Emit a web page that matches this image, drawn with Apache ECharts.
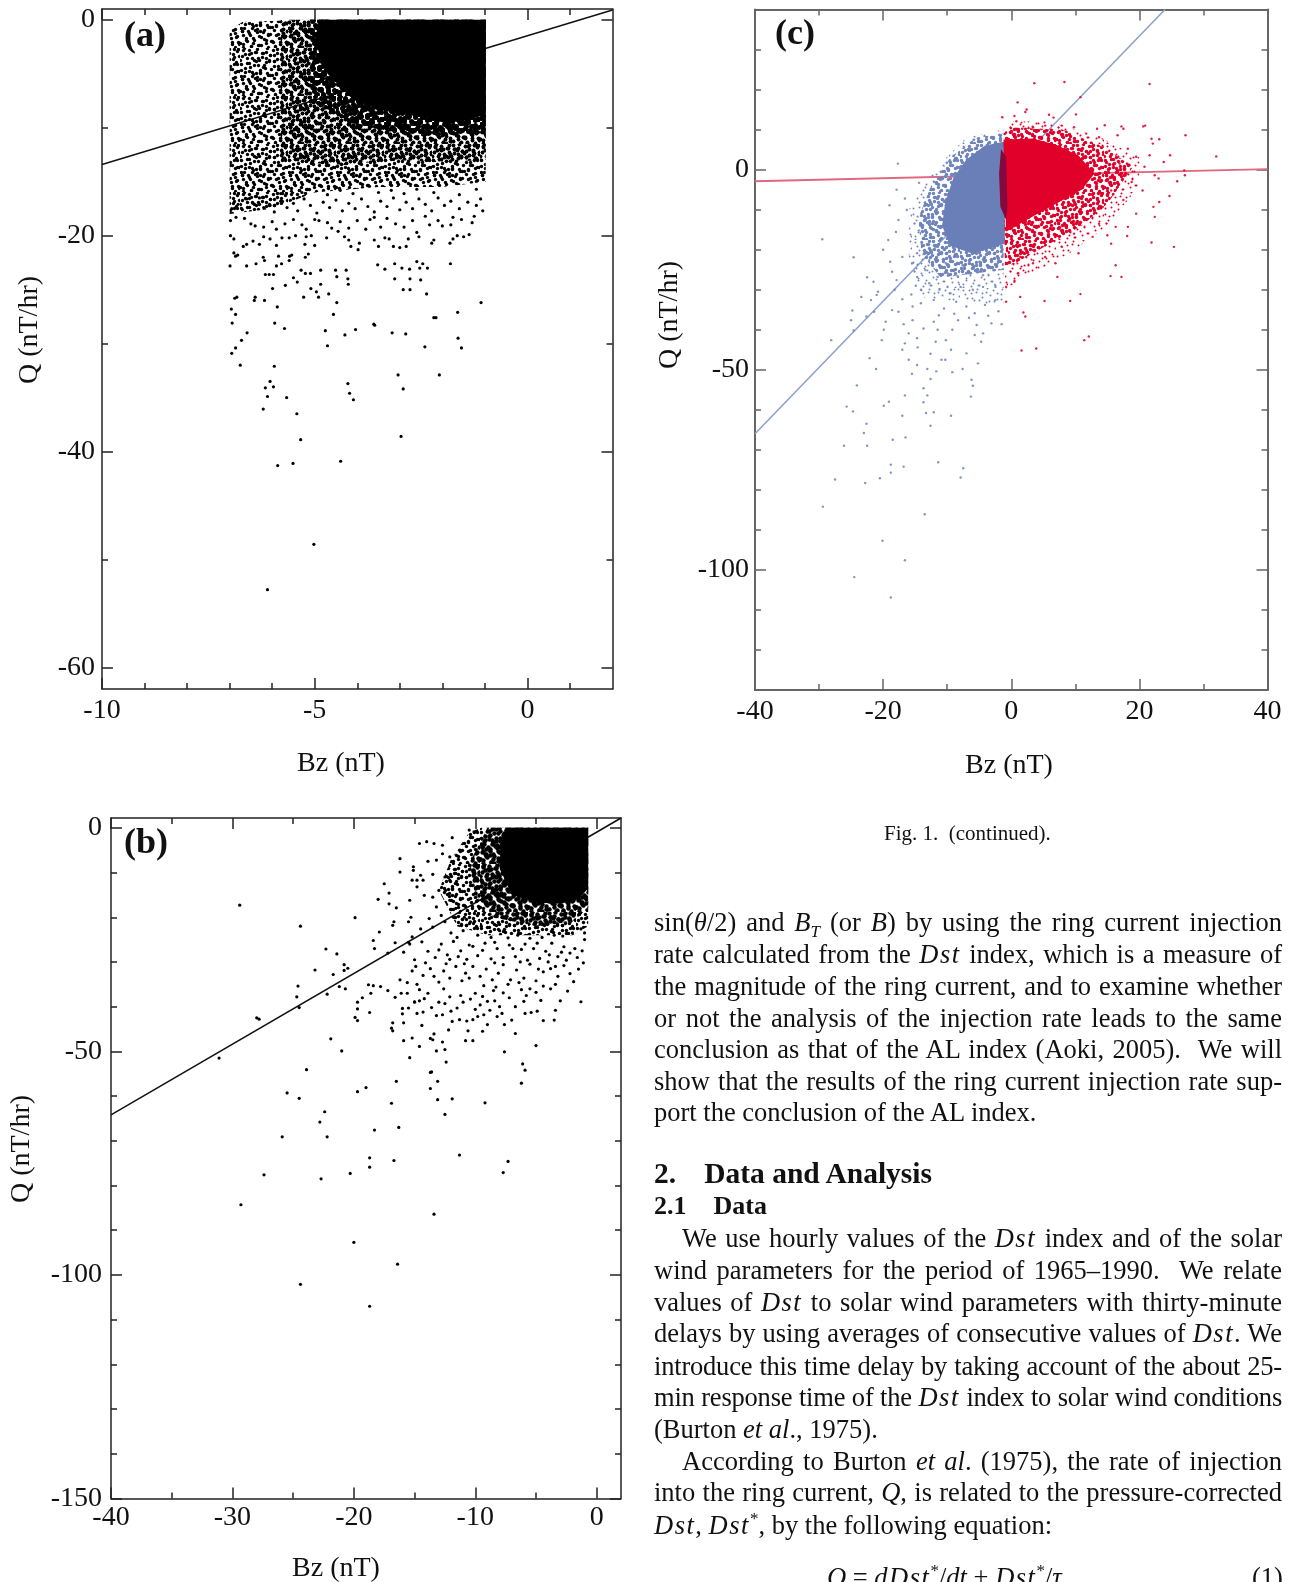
<!DOCTYPE html>
<html>
<head>
<meta charset="utf-8">
<title>Fig. 1 (continued)</title>
<script src="https://cdn.jsdelivr.net/npm/echarts@6/dist/echarts.min.js"></script>
<style>
html, body { margin: 0; padding: 0; background: #fff; overflow: hidden; }
#page { position: relative; width: 1296px; height: 1582px; overflow: hidden; }
#chart { position: absolute; left: 0; top: 0; width: 1296px; height: 1582px; }
.ln { position: absolute; left: 654px; width: 628px; height: 32px; line-height: 32px; white-space: nowrap;
  font-family: "Liberation Serif", serif; font-size: 26.5px; color: #111; text-align: justify; text-align-last: justify; }
.ln.end { text-align-last: left; }
.ln.in { left: 682px; width: 600px; }
.ln.tight { letter-spacing: -0.2px; }
.ln i.m { letter-spacing: 1.5px; }
.ln b { font-size: 29.5px; }
.ln b.s { font-size: 26px; }
</style>
</head>
<body>
<div id="page"><div id="chart"></div></div>
<script>
// ---- panel (a) ----
const aXRange = [-10, 2], aYRange = [-62, 1]
const aXMajor = [-10, -5, 0], aXMinor = [-9, -8, -7, -6, -4, -3, -2, -1, 1]
const aYMajor = [0, -20, -40, -60], aYMinor = [-10, -30, -50]
const aLine = [[-10, -13.4], [2, 0.9]]
const aPoints = [
  [-6.21,-36.07],[-5.42,-36.5],[-5.33,-38.9],[-2.97,-38.6],[-5.87,-41.3],[-5.51,-41.1],[-4.39,-40.9],[-5.02,-48.6],[-6.11,-52.8],
  [-6.99,-22.8],[-6.86,-21.9],[-6.81,-21.8],[-6.6,-22.8],[-6.38,-22.6],[-6.21,-22],[-6.18,-22.3],[-6.16,-23.6],[-6.07,-23.6],[-5.97,-23.6],
  [-5.9,-22.8],[-5.78,-22.6],[-5.85,-21.9],[-5.59,-21.9],[-5.54,-21.8],[-5.6,-22.3],[-5.32,-23.2],[-5.22,-23.5],[-5.1,-23.5],[-5.22,-22],
  [-5.15,-21.7],[-4.86,-23.2],[-4.51,-23.2],[-4.26,-23.2],[-4.48,-23.8],[-4.22,-24],[-4.21,-24.5],[-5.5,-23.9],[-5.41,-24.3],[-5.69,-24.6],
  [-5.99,-24.9],[-5.09,-24.9],[-4.96,-25.2],[-4.86,-24.5],[-4.67,-25.4],[-5.26,-25.7],[-4.91,-25.7],[-4.48,-26.2],[-4.56,-27.3],[-3.52,-22.7],
  [-3.35,-23.1],[-3.12,-22.6],[-2.95,-23],[-2.77,-23.1],[-2.6,-22.4],[-2.46,-22.6],[-2.35,-23],[-2.53,-23],[-3.12,-24],[-2.76,-24],[-2.51,-24.1],
  [-2.92,-25],[-2.76,-25],[-2.37,-25.4],[-1.81,-22.6],[-1.09,-26.2],[-1.64,-27.1],[-2.2,-27.6],[-2.15,-27.6],[-3.61,-28.2],[-3.59,-28.3],
  [-3.18,-29],[-2.86,-29.1],[-4.04,-28.7],[-4.29,-29.2],[-4.75,-28.8],[-4.7,-30.2],[-5.71,-28.6],[-5.94,-28.1],[-5.88,-26.6],[-6.18,-26],
  [-6.42,-26],[-6.4,-25.7],[-6.88,-25.8],[-6.83,-25.7],[-6.96,-26.8],[-6.86,-27.3],[-6.94,-28.1],[-6.59,-29],[-6.72,-29.7],[-6.86,-30.4],
  [-6.95,-30.9],[-6.75,-32],[-5.95,-32.1],[-6.05,-33.5],[-5.97,-34],[-6.16,-34.1],[-6.11,-34.9],[-5.66,-35],[-4.22,-33.7],[-4.18,-34.6],
  [-4.09,-35.2],[-3.04,-32.9],[-2.07,-32.9],[-2.92,-34.2],[-1.63,-29.5],[-1.55,-30.4],[-2.41,-30.3],
  [-6.98,-20],[-6.9,-20.3],[-6.68,-21],[-6.6,-20.8],[-6.45,-20.5],[-6.3,-20.8],[-6.2,-20.1],[-6.05,-20.3],[-5.9,-20.9],[-5.77,-20.2],[-5.6,-20.2],
  [-5.45,-20],[-5.2,-20.1],[-5.08,-20],[-5.23,-20.8],[-5,-20.9],[-4.72,-20.2],[-4.45,-19.6],[-4.3,-20.1],[-4.2,-20.4],[-4.15,-21],[-3.98,-21.3],
  [-3.95,-20.7],[-3.6,-20.4],[-3.5,-21],[-3.35,-20.2],[-3.25,-20.3],[-3.15,-21],[-3,-21.1],[-2.85,-21],[-2.8,-20.3],[-2.55,-20.1],[-2.25,-20.7],
  [-2.2,-20.4],[-1.82,-20.7],[-1.75,-20.3],[-1.65,-20],[-1.5,-20.1],[-1.37,-19.9],[-6.9,-21.6],
  [-6.98,-18.6],[-6.85,-18.3],[-6.65,-18.4],[-6.5,-18.9],[-6.4,-19.1],[-6.2,-19.2],[-6,-18.7],[-5.9,-19.4],[-5.7,-18.9],[-5.5,-18.5],[-5.3,-19],
  [-5.2,-19.4],[-5,-18.5],[-4.9,-18.6],[-4.7,-18.8],[-4.6,-19.3],[-4.4,-18.7],[-4.2,-19.3],[-4,-18.6],[-3.8,-19.4],[-3.7,-18.5],[-3.6,-18.3],
  [-3.45,-19.2],[-3.3,-18.4],[-3.1,-18.9],[-2.9,-19.2],[-2.7,-18.6],[-2.6,-19.7],[-2.4,-18.2],[-2.3,-19],[-2.1,-18.6],[-2,-19.1],[-1.8,-19],
  [-1.75,-18.3],[-1.55,-18.5],[-1.3,-18.8],[-1.25,-18.2],
  [-6.95,-17.5],[-6.8,-17.1],[-6.7,-17.6],[-6.6,-16.6],[-6.45,-17],[-6.3,-16.5],[-6.2,-17.4],[-6.05,-17.2],[-5.95,-17.8],[-5.8,-16.8],[-5.65,-17.4],
  [-5.5,-17],[-5.4,-17.7],[-5.25,-16.6],[-5.1,-17.2],[-4.95,-17.9],[-4.8,-16.9],[-4.65,-17.4],[-4.5,-16.7],[-4.35,-17.7],[-4.2,-17],[-4.05,-17.5],
  [-3.9,-16.6],[-3.75,-17.3],[-3.6,-17.8],[-3.45,-16.8],[-3.3,-17.3],[-3.15,-16.5],[-3,-17.6],[-2.85,-16.9],[-2.7,-17.5],[-2.55,-16.6],[-2.4,-17.1],
  [-2.25,-17.7],[-2.1,-16.5],[-1.95,-17.2],[-1.8,-16.8],[-1.6,-17.5],[-1.4,-16.9],[-1.2,-17.2],[-1.05,-17.7],[-1.1,-16.6],
  [-5.8,-16.1],[-5.3,-16],[-4.7,-16.2],[-4.1,-16.1],[-3.5,-16],[-2.9,-16.1],[-2.2,-16],[-1.6,-16.2],[-1.2,-15.7],[-4.4,-15.8],[-3.2,-15.8],[-2.6,-15.7]
]
// outlines of the parts of the cloud where the dots overlap too much to read one by one
const aLight = [[-7,-1],[-6.7,-0.2],[-5.2,0],[-0.98,0],[-0.98,-15],[-2,-15.5],[-3.5,-15.5],[-5,-16],[-6,-17.5],[-7,-18]]
const aMid = [[-5.8,0],[-0.98,0],[-0.98,-13],[-2,-13.2],[-3.2,-13],[-4.4,-13.5],[-5.8,-13]]
const aDense = [[-5.1,0],[-0.98,0],[-0.98,-10.5],[-2.5,-10.8],[-4,-9.8],[-5.1,-7.5]]
const aCore = [[-4.9,0],[-0.98,0],[-0.98,-8.8],[-1.6,-9.5],[-2.5,-9],[-3.4,-8.4],[-4.1,-7.4],[-4.7,-5],[-5,-2]]

// ---- panel (b) ----
const bXRange = [-40, 2], bYRange = [-150, 2.2]
const bXMajor = [-40, -30, -20, -10, 0], bXMinor = [-35, -25, -15, -5]
const bYMajor = [0, -50, -100, -150], bYMinor = [-10, -20, -30, -40, -60, -70, -80, -90, -110, -120, -130, -140]
const bLine = [[-40, -64.2], [2, 2.2]]
const bPoints = [
  [-29.4,-17.3],[-24.4,-22],[-19.9,-20.1],[-22.3,-27.1],[-21.4,-28.2],[-23.2,-31.8],[-21.7,-32.8],[-20.8,-30.6],[-20.5,-31.4],[-20.8,-31.9],
  [-24.6,-35.4],[-24.7,-37.8],[-24.5,-40.2],[-22.2,-37.2],[-21.2,-35.5],[-20.7,-36],[-28,-42.5],[-27.8,-42.8],[-31.1,-51.5],[-21.9,-47.2],[-21,-49.9],
  [-23.9,-54.1],[-25.5,-59.3],[-24.5,-60.5],[-22.4,-63.5],[-22.8,-65.8],[-25.9,-69.1],[-22.2,-69.1],[-27.4,-77.6],[-22.7,-78.5],[-20.3,-77.3],
  [-18.7,-75.9],[-18.7,-73.8],[-16.7,-74.4],[-18.3,-67.6],[-16.3,-67],[-11.3,-73.2],[-7.7,-77.1],[-7.3,-74.6],[-9.2,-61.5],[-11.9,-60.6],[-13.1,-60.8],
  [-12.5,-64.1],[-16.9,-61.6],[-19.7,-59],[-19,-58.1],[-16.5,-56.7],[-13.7,-58.3],[-13.1,-56.7],[-13.7,-54.7],[-13.6,-54.6],[-15.4,-51.4],[-12.4,-52.4],
  [-12.5,-49.6],[-13.2,-49.9],[-6.2,-57.1],[-5.9,-54.2],[-6.1,-52.8],[-7.6,-50.1],[-5,-48.7],[-6.7,-46],[-9.4,-45.5],[-10.8,-47.6],[-10.2,-47.6],
  [-13.7,-47.1],[-13.4,-46.1],[-13.5,-47.4],[-12.7,-47.9],[-14.6,-48.9],[-15.2,-47],[-15.9,-47.6],[-14.4,-44.2],[-16.8,-45.4],[-16.9,-44.8],[-16.8,-43.6],
  [-15.9,-43.6],[-16,-41.6],[-19.9,-42.4],[-19.7,-43.1],[-19.7,-40.5],[-19.7,-39],[-19.3,-38],[-18.7,-41.3],[-18.6,-37],[-18.4,-35.3],[-18.8,-35.1],
  [-17.8,-35.5],[-17.2,-36.4],[-16.6,-37.9],[-16.1,-37],[-16,-40.4],[-15.5,-40.3],[-15,-38.9],
  // the few single ones at the bottom
  [-29.3,-84.3],[-24.4,-102.1],[-20,-92.7],[-16.4,-97.6],[-18.7,-107],[-13.4,-86.4],
  [-14.8,-41.5],[-14.3,-41.2],[-13.2,-42],[-12.7,-41.8],[-11.9,-43.3],[-11.3,-42.9],[-10.7,-43.2],[-10.2,-42.9],[-9.8,-42.2],[-9.3,-41.8],[-8.8,-40.8],
  [-8.2,-42.2],[-7.8,-41.5],[-7.6,-44],[-5.9,-41.5],[-5.4,-41.3],[-4.9,-41],[-4.4,-43.1],[-3.5,-43],[-3.4,-40.8],
  [-15,-39],[-14.6,-38.7],[-14.2,-38.2],[-13.9,-37],[-13,-39],[-12.5,-39.3],[-12.1,-37.8],[-11.5,-40.3],[-11.2,-37.5],[-10.4,-38.3],[-10,-37],[-9.4,-37.7],
  [-9,-38.8],[-8.4,-38.7],[-8,-40],[-7.7,-36.9],[-6.2,-36.2],[-6,-38.8],[-5.5,-36],[-5,-36.8],[-4.4,-35.4],[-3.8,-36],[-3,-38.7],[-1.3,-38.9],
  [-16.2,-34],[-15.6,-34.6],[-15.2,-32],[-14.8,-35],[-14.3,-33],[-13.7,-31.5],[-13,-34.5],[-12.6,-32],[-12.1,-33.6],[-11.6,-31],[-11.1,-34.2],[-10.8,-32.5],
  [-10.2,-31],[-9.6,-33.2],[-9.1,-31.6],[-8.6,-34],[-8.1,-32.5],[-7.7,-30.6],[-7.1,-34],[-6.6,-31.8],[-6,-33.6],[-5.5,-30.5],[-5,-34.2],[-4.4,-32.2],
  [-3.8,-31.5],[-3.2,-33.2],[-2.7,-30.8],[-2.2,-32.6],[-7.3,-35],[-9.3,-35.3],
  [-17.2,-28],[-16.6,-25.7],[-15.9,-27.8],[-15.4,-26],[-15,-29.5],[-14.4,-25.5],[-13.9,-27.6],[-13.3,-29],[-12.8,-26],[-12.3,-28.4],[-11.8,-25.4],[-11.2,-27.5],
  [-10.7,-29.4],[-10.2,-26.5],[-9.8,-28.6],[-9.2,-25.8],[-8.7,-29.3],[-8.2,-27],[-7.7,-29],[-7.2,-26.2],[-6.7,-28.8],[-6.2,-27.2],[-5.7,-29.6],[-5.2,-27],
  [-4.7,-29.2],[-4.2,-27.6],[-3.7,-25.8],[-3.2,-28.8],[-2.7,-26.6],[-2.2,-28],[-1.8,-27],[-1.2,-27.5],[-1,-25],[-10.5,-26.2],[-12.1,-29.4],
  [-17.5,-12.5],[-16.2,-6.9],[-16.2,-9.9],[-17.1,-14.6],[-18,-16],[-17.1,-17],[-16.5,-17.9],[-15.1,-8.7],[-15.1,-9.5],[-15.4,-16.2],[-15.2,-11.7],[-14.6,-3.5],
  [-14,-3.1],[-13.4,-3.5],[-12.7,-3.9],[-11.9,-2.2],[-12.7,-5.8],[-12.1,-6.5],[-13.9,-7.5],[-13.2,-7.2],[-14.8,-11.7],[-14.3,-11.7],[-14.5,-10.6],[-13.5,-10.4],
  [-14.8,-13.2],[-14.2,-15.1],[-13.5,-15.5],[-13,-14],[-12.1,-11.7],[-12.5,-11],[-11.6,-10.2],[-11.8,-8],[-11.3,-5],[-10.5,-0.5],[-10.1,-0.9],
  [-18.4,-25.2],[-18.3,-27],[-17.9,-23.3],[-16.8,-21.8],[-16.7,-21],[-15.5,-21],[-15.3,-20],[-14.5,-22.6],[-15.5,-25.6],[-15.2,-24.4],[-13.8,-20.3],[-13.5,-22.2],
  [-12.8,-19.6],[-12.5,-21],[-11.8,-20],[-13.2,-17.7],[-12.1,-16.2],[-11.6,-18],[-11,-23],[-10.4,-21],[-9.8,-24],[-12,-23.5],[-11.5,-24.5],[-10.9,-20],[-9.5,-22],
  [-8.7,-24.5],[-8,-23],[-7.3,-24.6],[-6.5,-24],[-5.5,-24.7],[-4.5,-24.5],[-3.5,-24],[-2.8,-24.2],[-2,-23.5],[-1.3,-22.6],[-1,-23.5],
  [-11.4,-28.8],[-9.4,-27.4],[-8.4,-25.6],[-6.9,-27],[-5.9,-26],[-4.9,-25.8],[-3.9,-28.4],[-2.9,-27.8],[-1.6,-29],[-1.1,-30.2],[-2.5,-29.6],[-4,-30],[-6.3,-30],
  [-8.4,-30.2],[-10.9,-30.4],[-12.4,-30.4],[-13,-27.3],[-14.1,-30.2],[-14.9,-31],[-13.4,-33.2],[-10.5,-33.6],[-8.3,-35.6],[-6.4,-34.6],[-4.8,-31.6],[-3.4,-31],
  [-1.9,-34.4],[-1.5,-31.6],[-2.4,-36.5],[-3.4,-35],[-5.8,-37.5],[-7.2,-38],[-9.6,-39.6],[-11,-39],[-12.6,-36],[-14.6,-36.2],[-15.6,-37],[-13.6,-40.2],[-12,-41],
  [-10,-40.6],[-8.5,-36.4],[-4.6,-38.6],[-6.7,-40],[-7,-43],[-9,-44],[-10.6,-45.4],[-12.2,-45.2]
]
const bLight = [[-10.5,-1],[-9.5,0],[-0.7,0],[-0.7,-22],[-2,-24],[-6,-24],[-9,-24],[-11.5,-22],[-13,-14],[-12,-7]]
const bMid = [[-9,0],[-0.7,0],[-0.7,-18],[-2,-21],[-5,-22],[-8.5,-20],[-10,-15],[-10.5,-8]]
const bCore = [[-7.4,0],[-0.7,0],[-0.7,-13.5],[-1.5,-16],[-3,-17],[-5,-16.7],[-7,-15],[-8,-9],[-7.9,-3]]

// ---- panel (c) ----
const cXRange = [-40, 40], cYRange = [-130, 40]
const cXMajor = [-40, -20, 0, 20, 40], cXMinor = [-30, -10, 10, 30]
const cYMajor = [0, -50, -100], cYMinor = [30, 20, 10, -10, -20, -30, -40, -60, -70, -80, -90, -110, -120]
const cBlueLine = [[-40, -66], [24, 40]]
const cRedLine = [[-40, -2.9], [40, 0.1]]
const cBluePoints = [
  [-25.7,-59.2],[-24.7,-60.4],[-19.9,-59],[-19.1,-58],[-13.7,-58.1],[-17,-61.5],[-13.3,-60.8],[-12.1,-60.6],[-9.4,-61.5],[-22.6,-63.5],[-23,-65.8],[-12.6,-64],
  [-16.5,-66.9],[-18.5,-67.5],[-26.1,-69],[-22.5,-69],[-18.8,-73.7],[-16.8,-74.2],[-11.4,-73.1],[-7.5,-74.6],[-7.9,-76.9],[-18.8,-75.7],[-20.5,-77.1],[-27.5,-77.4],
  [-22.8,-78.3],[-29.4,-84.2],[-13.5,-86.1],[-20.1,-92.7],[-16.6,-97.6],[-24.5,-101.8],[-18.8,-106.9],
  [-29.5,-17.4],[-17.7,1.5],[-24.6,-21.9],[-20,-20],[-22.5,-26.9],[-23.4,-31.8],[-21.5,-28],[-20.8,-30.5],[-21,-31.3],[-21.9,-32.6],[-21.4,-35.5],[-24.8,-35.2],
  [-25,-37.6],[-22.6,-36.7],[-24.6,-40.2],[-28.1,-42.6],[-22.1,-47.1],[-21.1,-49.8],[-24.1,-53.9],[-19.6,-38],[-19.9,-40],[-20.2,-42.6],[-18.6,-35.1],[-17.6,-35.5],
  [-16.6,-56.4],[-15.5,-51],[-13.7,-54.6],[-13.1,-56.4],[-12.6,-52.3],[-13.1,-49.8],[-14.7,-48.8],[-16,-47.5],[-17,-45],[-16.6,-43.4],[-14.7,-42.1],[-11.8,-43],
  [-10.2,-42.6],[-10.9,-47.5],[-10.3,-47.5],[-9.4,-45],[-7,-45.9],[-5.2,-48.4],[-7.6,-49.8],[-6.2,-52.5],[-6,-54],[-6.3,-56.7],[-4.7,-43],[-5.7,-41.3],[-4.4,-40.9],
  [-3.1,-38.4],[-1.5,-38.6],[-5.4,-38.8],[-8.3,-37.6],[-9.2,-40],[-11.5,-40],[-13.7,-39.7],[-15.4,-37.6],[-16,-40.9],[-12.1,-38],[-15.4,-34.2],[-14.1,-33.4],[-12.1,-32.6],
  [-10.5,-34.7],[-8.6,-33],[-7,-34.2],[-5.7,-35.9],[-4.1,-33.8],[-2.5,-32.6],[-14.1,-30],[-12.8,-28.4],[-11.2,-30],[-9.5,-30.9],[-7.9,-29.3],[-6,-30],[-4.4,-29.3],
  [-2.5,-28.8],[-14.7,-26.8],[-17.9,-27.6],[-18.6,-25.5],[-15.4,-23.4],[-13.4,-25.1],[-11.5,-26.8],[-9.9,-25.9],[-8.3,-26.8],[-6.3,-25.9],[-4.4,-26.4],[-2.8,-25.1],
  [-17,-21.8],[-14.7,-20.9],[-12.8,-22.6],[-10.2,-23.4],[-7.6,-23.9],[-5,-23],[-2.1,-23.4],[-16.6,-7.2],[-17.6,-12.6],[-16.3,-10.1],[-14.4,-3.3],
  [-18.2,-30],[-17,-32.4],[-15.6,-31.2],[-16.8,-38.6],[-14.6,-44.4],[-12.6,-46],[-11.3,-36.4],[-8.9,-36],[-6.6,-37],[-3.6,-36.5],[-2,-35.4],[-9.2,-50.6],[-11.7,-50.4],
  [-14.9,-29],[-18.9,-23],[-19.2,-17.6],[-18,-15.6],[-19,-8.9],[-17.9,-5]
]
const cRedPoints = [
  [3.6,21.6],[8.3,21.9],[21.6,21.4],[10.8,18.1],[1,16.8],[2.4,15],[2.2,14.4],[0.5,13.4],[-1.4,13.1],[0.8,12.1],[5.9,13.7],[6.6,13],[10.1,13.8],[14.6,11.1],[13.4,10.2],
  [17.2,10.8],[17.5,10.2],[20.6,10.8],[20.9,11],[27.2,8.6],[21.9,7.7],[23.1,7.6],[22.1,6.5],[16.6,8.6],[18.2,5.2],[19.5,3.2],[21.6,3.6],[24.8,3.6],[23.8,1.9],[32,3.3],
  [27,-0.2],[27.1,-1.4],[22.4,-1.4],[23,-2.2],[25.9,-2.9],[20.5,-5.2],[24.7,-6.6],[23.1,-8.1],[22.2,-9.3],[22.4,-11.8],[21.9,-18.2],[25.4,-19.3],[18.2,-14.3],[16.3,-14.3],
  [15,-16.4],[15.6,-18.5],[18.1,-16.6],[16.3,-23.9],[17.2,-26.8],[15.5,-26.6],[10.8,-31.1],[9.2,-32.8],[12.1,-41.7],[11.4,-42.6],[1.6,-45.2],[3.9,-44.7],[1.9,-35.7],[2.2,-36.7],
  [5.2,-32.8],[-0.8,-33],[0.5,-28],[1.4,-31.8],[7.2,-26.8],[6.9,-23.4],[5.3,-21.8],[3.4,-23.4],[1.1,-25.9],[-0.8,-29.3],[-0.5,-23.4],[10.5,-20.9],[12.7,-16.8],[13.7,-13.5],
  [9.8,-16],[7.9,-19.3],[5.3,-17.6],[3.4,-20.1],[1.4,-21.8],[19.5,-11],[14.3,-9.3],[17.5,-7.6],[15.6,-5.2],[18.8,-3.1],[20.8,0.7],[16.9,1.5],[14.3,5.7],[13.7,8.1],[11.7,9],
  [9.8,10.6],[7.9,11],[5.3,11],[3.4,10.6],[0.1,9.4],[1.7,10.2]
]
const cBlueOuter = [[-1.2,10],[-7,8],[-12,0],[-16,-10],[-16,-22],[-14,-32],[-1.2,-34]]
const cBlueBand = [[-1.2,9],[-5.5,8],[-9.5,3],[-12.5,-4],[-14.5,-12],[-14,-21],[-11,-27],[-1.2,-25]]
const cBlueCore = [[-1,7],[-4.1,6],[-7,2.5],[-9,-2],[-10.3,-8],[-10.8,-14],[-9.5,-19],[-6,-21],[-1,-18.5]]
const cRedOuter = [[-1,12],[6,12],[14,8],[20,3],[20,-4],[15,-14],[9,-21],[3,-26],[-1,-30]]
const cRedBand = [[-1.2,9],[0,10.5],[8,10],[14.5,5.5],[19,0.7],[15,-8.5],[11,-14],[6,-18.5],[0.5,-23.5],[-1,-24]]
const cRedCore = [[-1.2,7.5],[3.4,7.8],[7,6.2],[10.5,3.5],[13,-1],[11,-5],[7,-8.5],[3,-12],[-0.8,-15.5]]
const cOverlap = [[-1.6,5.1],[-0.8,3.2],[-0.6,-9.3],[-0.8,-12.6],[-1.7,-9.3],[-1.9,-1]]

// ---- text ----
const bodyLines = [
  [922, 'sin(<i>θ</i>/2) and <i>B<sub style="font-size:17px;line-height:0">T</sub></i> (or <i>B</i>) by using the ring current injection', ''],
  [954, 'rate calculated from the <i class="m">Dst</i> index, which is a measure of', ''],
  [986, 'the magnitude of the ring current, and to examine whether', ''],
  [1018, 'or not the analysis of the injection rate leads to the same', ''],
  [1049, 'conclusion as that of the AL index (Aoki, 2005). &nbsp;We will', ''],
  [1081, 'show that the results of the ring current injection rate sup-', ''],
  [1112, 'port the conclusion of the AL index.', 'end'],
  [1173, '<b>2.<span style="margin-left:28px">Data and Analysis</span></b>', 'end'],
  [1205, '<b class="s">2.1<span style="margin-left:27px">Data</span></b>', 'end'],
  [1238, 'We use hourly values of the <i class="m">Dst</i> index and of the solar', 'in'],
  [1270, 'wind parameters for the period of 1965–1990. &nbsp;We relate', ''],
  [1302, 'values of <i class="m">Dst</i> to solar wind parameters with thirty-minute', ''],
  [1333, 'delays by using averages of consecutive values of <i class="m">Dst</i>. We', ''],
  [1366, 'introduce this time delay by taking account of the about 25-', 'tight'],
  [1397, 'min response time of the <i class="m">Dst</i> index to solar wind conditions', 'tight'],
  [1429, '(Burton <i>et al</i>., 1975).', 'end'],
  [1461, 'According to Burton <i>et al</i>. (1975), the rate of injection', 'in'],
  [1492, 'into the ring current, <i>Q</i>, is related to the pressure-corrected', ''],
  [1525, '<i class="m">Dst</i>, <i class="m">Dst</i><sup style="font-size:17px;line-height:0">*</sup>, by the following equation:', 'end']
]

const page = document.getElementById('page')
bodyLines.forEach(function (l) {
  const d = document.createElement('div')
  d.className = 'ln ' + l[2]
  d.style.top = (l[0] - 16) + 'px'
  d.innerHTML = l[1]
  page.appendChild(d)
})
function addText(html, left, top, extra) {
  const d = document.createElement('div')
  d.className = 'ln end'
  d.style.left = left + 'px'
  d.style.top = top + 'px'
  d.style.width = 'auto'
  if (extra) d.style.fontSize = extra
  d.innerHTML = html
  page.appendChild(d)
}
addText('Fig. 1. &nbsp;(continued).', 884, 817, '21px')
addText('<i>Q</i> = <i class="m">dDst</i><sup style="font-size:17px;line-height:0">*</sup>/<i>dt</i> + <i class="m">Dst</i><sup style="font-size:17px;line-height:0">*</sup>/<i>τ</i>', 827, 1561)
addText('(1)', 1252, 1561)

// speckle for the overlapping parts (the single dots there can't be read): one hand placed tile, shifted copies make it denser
const speck = [[3,2],[11,5],[17,1],[26,4],[33,2],[41,6],[46,1],[7,10],[14,12],[22,9],[29,13],[37,11],[44,14],[1,16],[10,19],[18,17],[25,20],[34,18],[40,21],[47,23],
  [5,24],[13,26],[20,24],[30,27],[36,25],[43,29],[2,31],[9,33],[17,32],[24,30],[28,35],[38,34],[45,36],[6,38],[14,40],[21,37],[32,41],[40,42],[47,44],[3,44],
  [11,46],[19,45],[26,43],[35,47],[43,47]]
const speckShifts = [[0,0],[17,29],[31,11],[7,37]]
function makeTile(color, level, r) {
  const c = document.createElement('canvas')
  c.width = 48
  c.height = 48
  const ctx = c.getContext('2d')
  ctx.fillStyle = color
  speck.forEach(function (p) {
    speckShifts.slice(0, level).forEach(function (s) {
      ctx.beginPath()
      ctx.arc((p[0] + s[0]) % 48 + 0.5, (p[1] + s[1]) % 48 + 0.5, r, 0, Math.PI * 2)
      ctx.fill()
    })
  })
  return { image: c, repeat: 'repeat' }
}

const grids = [], xAxes = [], yAxes = [], series = []

function axisPair(list, gridIndex, range, major, minor, sides, labelMargin, lineColor, lineWidth) {
  sides.forEach(function (side, i) {
    const base = {
      gridIndex: gridIndex, type: 'value', position: side, min: range[0], max: range[1],
      splitLine: { show: false }, minorSplitLine: { show: false }
    }
    list.push(Object.assign({}, base, {
      axisLine: { show: true, onZero: false, lineStyle: { color: lineColor, width: lineWidth } },
      axisTick: { show: true, inside: true, length: 11, customValues: major, lineStyle: { color: lineColor, width: 1.5 } },
      axisLabel: i === 0 ? {
        show: true, customValues: major, margin: labelMargin, color: '#111', fontSize: 28, fontFamily: 'Liberation Serif'
      } : { show: false }
    }))
    list.push(Object.assign({}, base, {
      axisLine: { show: false, onZero: false },
      axisTick: { show: true, inside: true, length: 6, customValues: minor, lineStyle: { color: lineColor, width: 1.5 } },
      axisLabel: { show: false }
    }))
  })
}

function addPanel(rect, xRange, yRange, xMajor, xMinor, yMajor, yMinor, xMargin, yMargin, lineColor, lineWidth) {
  const g = grids.length
  grids.push(rect)
  axisPair(xAxes, g, xRange, xMajor, xMinor, ['bottom', 'top'], xMargin, lineColor, lineWidth)
  axisPair(yAxes, g, yRange, yMajor, yMinor, ['left', 'right'], yMargin, lineColor, lineWidth)
  return g
}

function addLine(g, pts, color, width) {
  series.push({
    type: 'line', z: 1, xAxisIndex: g * 4, yAxisIndex: g * 4, data: pts, showSymbol: false, silent: true,
    lineStyle: { color: color, width: width }
  })
}

function addRegion(g, outline, fill) {
  series.push({
    type: 'custom', z: 2, xAxisIndex: g * 4, yAxisIndex: g * 4, silent: true, data: outline,
    encode: { x: 0, y: 1 },
    renderItem: function (params, api) {
      if (params.dataIndex !== 0) return null
      return { type: 'polygon', shape: { points: outline.map(function (p) { return api.coord(p) }) }, style: { fill: fill } }
    }
  })
}

function addDots(g, pts, color, size, opacity) {
  series.push({
    type: 'scatter', z: 2, xAxisIndex: g * 4, yAxisIndex: g * 4, data: pts, symbolSize: size, silent: true,
    itemStyle: { color: color, opacity: opacity }
  })
}

const gA = addPanel({ left: 102, top: 9, width: 510.5, height: 680 }, aXRange, aYRange, aXMajor, aXMinor, aYMajor, aYMinor, 8, 7, '#222', 1.5)
const gB = addPanel({ left: 111, top: 818, width: 510, height: 680.5 }, bXRange, bYRange, bXMajor, bXMinor, bYMajor, bYMinor, 5, 9, '#222', 1.5)
const gC = addPanel({ left: 755, top: 9.5, width: 512.5, height: 680.5 }, cXRange, cYRange, cXMajor, cXMinor, cYMajor, cYMinor, 8, 6, '#666', 2)

addLine(gA, aLine, '#111', 1.5)
addRegion(gA, aLight, makeTile('#000', 3, 1.7))
addRegion(gA, aMid, makeTile('#000', 4, 1.9))
addRegion(gA, aDense, makeTile('#000', 4, 2.5))
addRegion(gA, aCore, '#000')
addDots(gA, aPoints, '#000', 3.2, 1)

addLine(gB, bLine, '#111', 1.5)
addRegion(gB, bLight, makeTile('#000', 3, 1.7))
addRegion(gB, bMid, makeTile('#000', 4, 2.2))
addRegion(gB, bCore, '#000')
addDots(gB, bPoints, '#000', 3.2, 1)

addLine(gC, cBlueLine, '#8da0cf', 1.6)
addLine(gC, cRedLine, '#e2667d', 1.8)
addRegion(gC, cBlueOuter, makeTile('#7488c0', 2, 1))
addRegion(gC, cBlueBand, makeTile('#6f84bb', 4, 1.7))
addRegion(gC, cBlueCore, '#6a7fb8')
addDots(gC, cBluePoints, '#7488c0', 2.4, 0.9)
addRegion(gC, cRedOuter, makeTile('#e0002a', 2, 1))
addRegion(gC, cRedBand, makeTile('#e0002a', 4, 1.7))
addRegion(gC, cRedCore, '#e0002a')
addDots(gC, cRedPoints, '#e0103a', 2.4, 0.95)
addRegion(gC, cOverlap, '#84093f')

function label(text, x, y, size, weight, rotated) {
  return {
    type: 'text', x: x, y: y, rotation: rotated ? Math.PI / 2 : 0, silent: true, z: 100,
    style: { text: text, x: 0, y: 0, fill: '#111', align: 'center', verticalAlign: 'middle',
      font: weight + ' ' + size + 'px "Liberation Serif"' }
  }
}

const myChart = echarts.init(document.getElementById('chart'), null, { renderer: 'canvas' })
let option = {
  animation: false,
  backgroundColor: 'transparent',
  grid: grids,
  xAxis: xAxes,
  yAxis: yAxes,
  series: series,
  graphic: { elements: [
    label('(a)', 145, 37, 36, 'bold'),
    label('(b)', 146, 844, 36, 'bold'),
    label('(c)', 795, 35, 36, 'bold'),
    label('Bz (nT)', 341, 764, 28, 'normal'),
    label('Bz (nT)', 336, 1569, 28, 'normal'),
    label('Bz (nT)', 1009, 766, 28, 'normal'),
    label('Q (nT/hr)', 30, 330, 28, 'normal', true),
    label('Q (nT/hr)', 22, 1149, 28, 'normal', true),
    label('Q (nT/hr)', 670, 315, 28, 'normal', true)
  ] }
}
option && myChart.setOption(option)
</script>
</body>
</html>
